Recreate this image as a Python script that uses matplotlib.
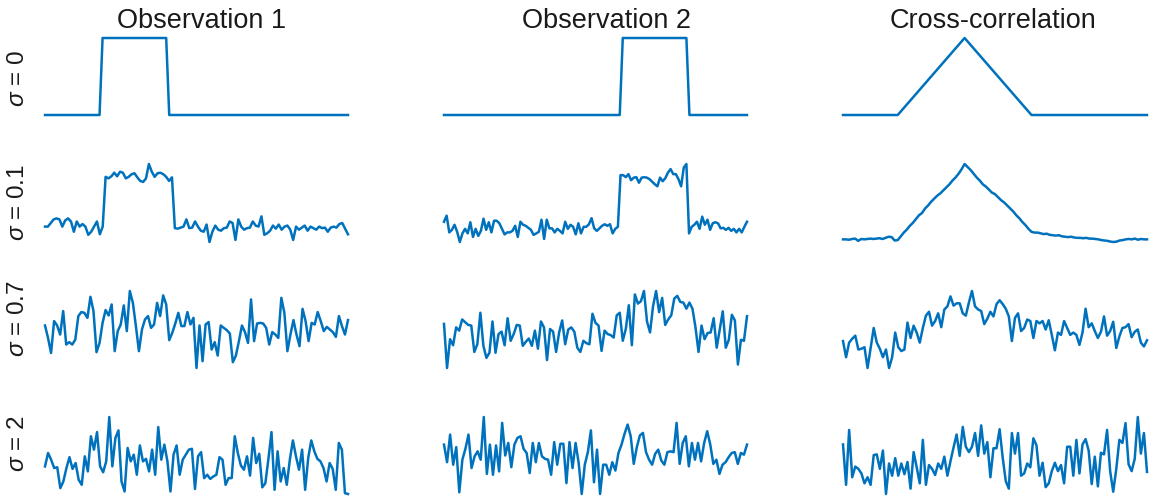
import numpy as np
import matplotlib.pyplot as plt

plt.rcParams['font.family'] = ['Liberation Sans', 'DejaVu Sans']
plt.rcParams['mathtext.fontset'] = 'custom'
plt.rcParams['mathtext.it'] = 'Liberation Sans:italic'
plt.rcParams['mathtext.rm'] = 'Liberation Sans'

titles = ['Observation 1', 'Observation 2', 'Cross-correlation']
row_labels = [r'$\sigma$ = 0', r'$\sigma$ = 0.1', r'$\sigma$ = 0.7', r'$\sigma$ = 2']

# sigma = 0 (noise free): breakpoints of the pulses and the triangle
obs1_clean_x = [0, 18, 19, 40, 41, 100]
obs1_clean_y = [0, 0, 1, 1, 0, 0]
obs2_clean_x = [0, 58, 59, 80, 81, 100]
obs2_clean_y = [0, 0, 1, 1, 0, 0]
xcorr_clean_x = [0, 18, 40, 62, 100]
xcorr_clean_y = [0, 0, 1, 0, 0]

# sigma = 0.1
obs1_s01 = [0.03, 0.03, 0.10, 0.17, 0.19, 0.17, 0.03, 0.15, 0.19, 0.13, -0.07, 0.13, 0.03, 0.08, 0.03,
            -0.13, -0.07, 0.03, 0.13, -0.12, 0.03,
            1.00, 0.97, 1.01, 1.08, 1.01, 1.10, 1.08, 0.97, 1.00, 1.05, 1.07, 0.99, 0.92, 0.90, 0.97,
            1.25, 1.10, 1.00, 1.07, 1.08, 1.05, 1.00, 0.92, 0.99,
            0.00, -0.01, 0.01, 0.03, 0.17, 0.00, 0.01, 0.13, 0.03, -0.05, -0.07, 0.07, -0.27, -0.07, 0.05,
            -0.03, -0.05, 0.00, 0.01, 0.13, 0.10, -0.23, 0.17, 0.03, -0.03, 0.00, 0.01, 0.13, 0.05, 0.03,
            0.23, -0.13, -0.10, -0.05, 0.05, -0.01, 0.07, -0.03, 0.03, 0.05, -0.03, -0.23, 0.03, -0.03,
            0.01, 0.05, -0.05, 0.03, 0.00, -0.03, 0.03, 0.00, 0.01, -0.07, 0.01, 0.03, 0.01, 0.08, 0.10,
            -0.01, -0.12]
obs2_s01 = [0.13, 0.25, -0.08, -0.03, 0.07, -0.07, -0.27, -0.10, -0.01, -0.10, 0.12, -0.17, -0.01, -0.15,
            -0.05, 0.19, -0.03, 0.12, -0.08, 0.15, 0.15, 0.10, -0.01, -0.12, -0.08, -0.08, -0.05, 0.05,
            -0.17, 0.13, 0.07, 0.05, 0.01, -0.03, -0.13, -0.10, -0.07, 0.17, -0.21, 0.17, 0.00, 0.00,
            -0.08, -0.01, -0.05, -0.10, 0.13, -0.01, 0.07, 0.03, -0.12, 0.10, -0.10, 0.03, 0.03, 0.08,
            0.20, 0.00, -0.05, 0.00, 0.05, 0.08, 0.05, 0.08, -0.10, -0.01, 0.03,
            1.05, 1.05, 1.01, 1.07, 0.95, 1.00, 1.01, 0.90, 1.00, 1.01, 1.00, 0.97, 0.92, 0.87, 0.83,
            1.00, 0.93, 0.99, 1.10, 1.17, 1.07, 1.07, 0.97, 0.83, 1.20, 1.27,
            -0.10, 0.03, 0.07, 0.13, -0.01, 0.23, 0.07, 0.17, -0.03, 0.10, 0.12, 0.10, 0.00, 0.01, -0.03,
            0.01, -0.05, -0.01, -0.08, -0.01, -0.08, 0.03, 0.13]
xcorr_s01 = [0.0, 0.0, -0.005, 0.005, 0.01, -0.02, 0.005, 0.0, 0.005, 0.01, 0.005, 0.01, 0.015, 0.005,
             0.02, 0.035, 0.03, -0.015,
             -0.01, 0.04, 0.09, 0.13, 0.18, 0.22, 0.27, 0.32, 0.35, 0.41, 0.45, 0.50, 0.54, 0.58, 0.61,
             0.65, 0.69, 0.73, 0.78, 0.82, 0.87, 0.93, 1.00,
             0.96, 0.92, 0.87, 0.82, 0.78, 0.73, 0.70, 0.66, 0.62, 0.60, 0.56, 0.52, 0.49, 0.45, 0.41,
             0.37, 0.32, 0.28, 0.23, 0.19, 0.14, 0.10, 0.09,
             0.09, 0.08, 0.07, 0.075, 0.06, 0.055, 0.05, 0.055, 0.04, 0.035, 0.03, 0.035, 0.025, 0.02,
             0.02, 0.015, 0.02, 0.01, 0.01, 0.005, 0.0, -0.01, -0.015, -0.02, -0.03, -0.035, -0.03,
             -0.015, -0.01, 0.0, 0.005, 0.0, 0.01, -0.005, 0.005, 0.0, 0.0]

# sigma = 0.7
obs1_s07 = [0.2, -0.42, -1.17, 0.42, 0.2, -0.25, 0.92, -0.75, -0.63, -0.75, -0.5, 0.67, 0.87, 0.83, 0.58,
            1.63, 0.92, -1.13, -0.67, 0.33, 0.97, 0.7, 1.25, -1.08, -0.08, 0.25, 1.2, -0.08, 1.92, 1.33,
            0.17, -1.08, 0.0, 0.5, 0.67, 0.08, 0.25, 1.33, 0.67, 1.7, 1.25, -0.53, -0.17, 0.3, 0.83, 0.17,
            0.17, 0.87, 0.25, 0.58, -1.92, 0.2, -1.58, 0.25, 0.37, -1.0, -0.63, -1.3, 0.2, 0.08, -0.03,
            -0.2, -1.63, -1.3, -0.58, 0.2, -0.13, -0.67, 1.5, -0.58, 0.3, 0.33, 0.3, 0.08, -0.75, -0.13,
            -0.25, -0.42, 1.58, 0.83, -1.08, -0.25, 0.47, -0.25, -0.83, 1.03, 0.42, -0.58, 0.33, 0.25,
            0.87, 0.42, -0.08, 0.13, 0.0, -0.13, -0.37, 0.67, 0.17, -0.25, 0.47]
obs2_s07 = [0.25, -1.92, -0.5, -0.8, 0.08, -0.08, 0.47, 0.33, 0.2, 0.17, -1.13, -0.75, 0.8, -0.83, -1.42,
            -1.17, 0.37, -1.17, -0.25, -0.13, -0.8, 0.53, -0.58, -0.25, 0.2, 0.17, -0.83, -0.63, -0.47,
            -0.83, -0.08, -0.97, 0.37, 0.08, -1.53, 0.0, -0.13, -1.13, -0.17, 0.42, -0.75, -0.03, 0.08,
            -0.13, -0.92, -1.13, -0.58, -0.7, -0.75, 0.75, 0.3, 0.17, -1.08, -0.08, -0.25, -0.3, -0.42,
            0.67, 0.8, -0.58, 0.0, 1.17, -0.8, 1.7, 1.25, 1.37, 1.87, 0.37, -0.17, 1.13, 1.87, 0.83, 1.53,
            0.2, 0.47, 0.67, 1.5, 1.63, 1.33, 1.3, 1.0, 1.3, 1.0, 0.08, -1.13, 0.17, -0.5, -0.2, -0.17,
            0.53, -0.92, -0.03, 0.87, -0.92, -0.53, 0.7, 0.42, -1.75, -0.53, -0.58, 0.63]
xcorr_s07 = [0.35, 0.14, 0.33, 0.38, 0.42, 0.24, 0.25, 0.27, 0.0, 0.26, 0.52, 0.33, 0.25, 0.14, 0.24, 0.0,
             0.14, 0.46, 0.27, 0.22, 0.24, 0.59, 0.39, 0.55, 0.46, 0.33, 0.52, 0.68, 0.73, 0.55, 0.61,
             0.71, 0.53, 0.76, 0.8, 0.93, 0.81, 0.84, 0.84, 0.71, 0.68, 0.85, 1.0, 0.8, 0.76, 0.74, 0.57,
             0.64, 0.73, 0.67, 0.83, 0.88, 0.83, 0.77, 0.67, 0.35, 0.65, 0.71, 0.48, 0.52, 0.63, 0.61,
             0.39, 0.61, 0.58, 0.61, 0.5, 0.62, 0.43, 0.23, 0.46, 0.43, 0.61, 0.52, 0.43, 0.46, 0.43, 0.3,
             0.46, 0.77, 0.53, 0.58, 0.48, 0.39, 0.47, 0.67, 0.42, 0.48, 0.6, 0.26, 0.41, 0.52, 0.53, 0.57,
             0.4, 0.47, 0.5, 0.33, 0.28, 0.36]

# sigma = 2
obs1_s2 = [-1.2, 0.4, -0.4, -1.4, -1.3, -3.8, -3.0, -1.4, -0.1, -1.5, -0.8, -2.8, -3.4, 0.0, -1.8, 2.4,
           0.8, 2.9, -1.2, -1.9, -0.6, 4.7, -1.2, 2.2, 3.1, -3.0, -4.2, 1.0, -0.6, 0.2, -2.2, 1.3, -0.6,
           -0.3, -1.8, 0.8, -2.2, 3.5, -0.4, 1.4, -0.6, -4.2, 0.2, 1.3, -2.2, -0.4, 0.2, 0.8, 0.9, -3.9,
           0.0, 0.5, -2.6, -2.2, -2.7, -2.4, -2.2, -0.1, -0.4, -3.4, -2.6, -2.6, 2.4, 0.4, -1.1, -1.6,
           0.0, -2.3, 2.2, -0.8, 0.3, -3.7, -3.2, -0.3, 2.9, -4.0, 0.6, -3.0, -1.4, -3.4, -0.4, 1.9, 0.0,
           -1.6, 0.8, -4.0, -0.2, 1.9, 0.6, -0.3, -0.6, -1.4, -3.0, -0.8, -1.5, -4.0, 1.6, 0.8, -4.4,
           -4.5]
obs2_s2 = [1.4, -0.7, 2.6, -1.0, 1.1, -4.3, -0.4, 0.9, 2.6, -1.4, 0.0, 0.6, -0.4, 4.7, -2.1, 1.4, -2.2,
           1.3, -1.8, 4.0, 0.1, 1.6, -1.3, 1.4, 2.2, 2.4, 0.9, 0.4, -2.0, 1.6, -0.7, 1.6, 0.0, -0.3, -0.4,
           -2.2, 1.7, -1.0, 1.5, 1.5, -3.2, 1.7, -1.4, 1.6, -0.8, -4.5, -1.0, 0.5, 3.1, -3.1, 0.8, -4.5,
           -1.0, -1.0, -2.2, -0.7, -1.7, 0.4, 1.4, 2.7, 3.8, 2.4, -0.9, 1.1, 2.5, 2.8, 0.5, -0.4, -1.0,
           0.3, 0.8, -0.5, -1.0, 0.5, 0.6, 0.5, 4.0, -0.9, 1.6, 2.4, -1.2, 1.6, -0.4, 1.6, -0.6, 1.6, 3.0,
           1.4, -0.9, -0.4, -2.1, -1.0, -0.7, -0.1, 0.4, 0.5, -0.9, 0.4, 0.2, 1.4]
xcorr_s2 = [0.65, 0.12, 0.84, 0.22, 0.36, 0.33, 0.27, 0.14, 0.22, 0.12, 0.51, 0.52, 0.33, 0.57, 0.0, 0.4,
            0.24, 0.47, 0.24, 0.4, 0.26, 0.42, 0.07, 0.55, 0.35, 0.14, 0.71, 0.12, 0.38, 0.33, 0.25, 0.4,
            0.33, 0.49, 0.24, 0.43, 0.61, 0.78, 0.5, 0.88, 0.62, 0.55, 0.62, 0.8, 0.5, 0.9, 0.53, 0.68,
            0.22, 0.6, 0.6, 0.85, 0.48, 0.17, 0.07, 0.8, 0.53, 0.8, 0.24, 0.27, 0.4, 0.35, 0.73, 0.64,
            0.24, 0.41, 0.09, 0.14, 0.3, 0.41, 0.3, 0.38, 0.14, 0.62, 0.62, 0.24, 0.71, 0.27, 0.65, 0.72,
            0.57, 0.13, 0.49, 0.1, 0.54, 0.52, 0.84, 0.3, 0.03, 0.33, 0.71, 0.67, 0.93, 0.39, 0.3, 0.46,
            1.01, 0.53, 0.8, 0.29]

noisy = [[obs1_s01, obs2_s01, xcorr_s01],
         [obs1_s07, obs2_s07, xcorr_s07],
         [obs1_s2, obs2_s2, xcorr_s2]]

W, H = 1153, 496
fig = plt.figure(figsize=(W / 100, H / 100), dpi=100)

# panel boxes in pixels (left, right) and (top, bottom)
cols = [(45, 348), (444, 747), (843, 1147)]
rows = [(38, 115), (164, 242), (291, 368), (417, 494)]
title_x = [202, 606, 993]
label_y = [79, 203, 319, 444]
blue = '#0072BD'


def make_ax(r, c):
    x0, x1 = cols[c]
    y0, y1 = rows[r]
    ax = fig.add_axes([x0 / W, 1 - y1 / H, (x1 - x0) / W, (y1 - y0) / H])
    ax.axis('off')
    return ax


clean = [(obs1_clean_x, obs1_clean_y), (obs2_clean_x, obs2_clean_y), (xcorr_clean_x, xcorr_clean_y)]
for c, (xs, ys) in enumerate(clean):
    ax = make_ax(0, c)
    ax.plot(xs, ys, color=blue, lw=1.8, clip_on=False)
    ax.set_xlim(0, 100)
    ax.set_ylim(0, 1)

for r, row in enumerate(noisy, start=1):
    for c, ys in enumerate(row):
        ax = make_ax(r, c)
        ys = np.array(ys)
        ax.plot(np.arange(len(ys)), ys, color=blue, lw=1.8, clip_on=False, solid_joinstyle='round')
        ax.set_xlim(0, len(ys) - 1)
        ax.set_ylim(ys.min(), ys.max())

for c, t in enumerate(titles):
    fig.text(title_x[c] / W, 1 - 21 / H, t, ha='center', va='center', fontsize=19.5, color='#1a1a1a')

for r, lab in enumerate(row_labels):
    fig.text(18 / W, 1 - label_y[r] / H, lab, ha='center', va='center', rotation=90,
             fontsize=17.5, color='#1a1a1a')

fig.savefig('out.png', dpi=100)
